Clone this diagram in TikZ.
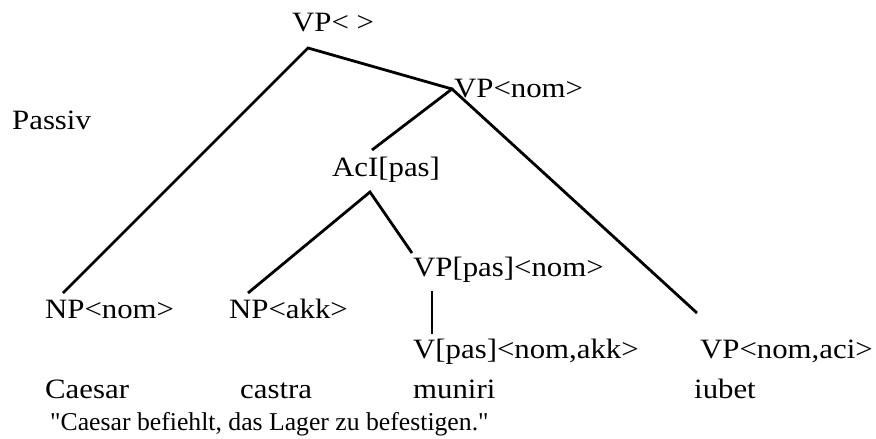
\documentclass[tikz,border=0pt]{standalone}
\usepackage{fontspec}
\setmainfont{Liberation Serif}
\newfontfamily\treefont[FakeStretch=1.1]{Liberation Serif}
\begin{document}
\begin{tikzpicture}[x=1pt,y=-1pt,
  lbl/.style={anchor=base west,inner sep=0pt,font=\treefont\fontsize{28}{30}\selectfont},
  gloss/.style={anchor=base west,inner sep=0pt,font=\fontsize{25.7}{28}\selectfont},
  branch/.style={line width=2.8pt,line cap=butt}]
\useasboundingbox (0,0) rectangle (876,439);

% category labels
\node[lbl] (root)   at (292,31)  {VP< >};
\node[lbl] (vpnom)  at (454,97)  {VP<nom>};
\node[lbl] (passiv) at (12,129)  {Passiv};
\node[lbl] (aci)    at (332,176) {AcI[pas]};
\node[lbl] (vppas)  at (413,276) {VP[pas]<nom>};
\node[lbl] (npnom)  at (45,318)  {NP<nom>};
\node[lbl] (npakk)  at (229,318) {NP<akk>};
\node[lbl] (vpas)   at (413,358) {V[pas]<nom,akk>};
\node[lbl] (vpaci)  at (700,358) {VP<nom,aci>};

% Latin words and translation
\node[lbl] (w1) at (45,398)  {Caesar};
\node[lbl] (w2) at (240,398) {castra};
\node[lbl] (w3) at (413,398) {muniri};
\node[lbl] (w4) at (694,398) {iubet};
\node[gloss] (tr) at (50,430) {\textquotedbl Caesar befiehlt, das Lager zu befestigen.\textquotedbl};

% branch points
\coordinate (root-b)   at (308,48);
\coordinate (vpnom-t)  at (452,89);
\coordinate (aci-t)    at (372,150);
\coordinate (aci-b)    at (370,192);
\coordinate (npnom-t)  at (63,293);
\coordinate (npakk-t)  at (248,293);
\coordinate (vppas-t)  at (412,253);
\coordinate (vppas-b)  at (432,291);
\coordinate (vpas-t)   at (432,334);
\coordinate (vpaci-t)  at (697,313);

% branches
\draw[branch] (npnom-t) -- (root-b) -- (vpnom-t);
\draw[branch] (aci-t) -- (vpnom-t) -- (vpaci-t);
\draw[branch] (npakk-t) -- (aci-b) -- (vppas-t);
\draw[line width=1.6pt] (vppas-b) -- (vpas-t);
\end{tikzpicture}
\end{document}
